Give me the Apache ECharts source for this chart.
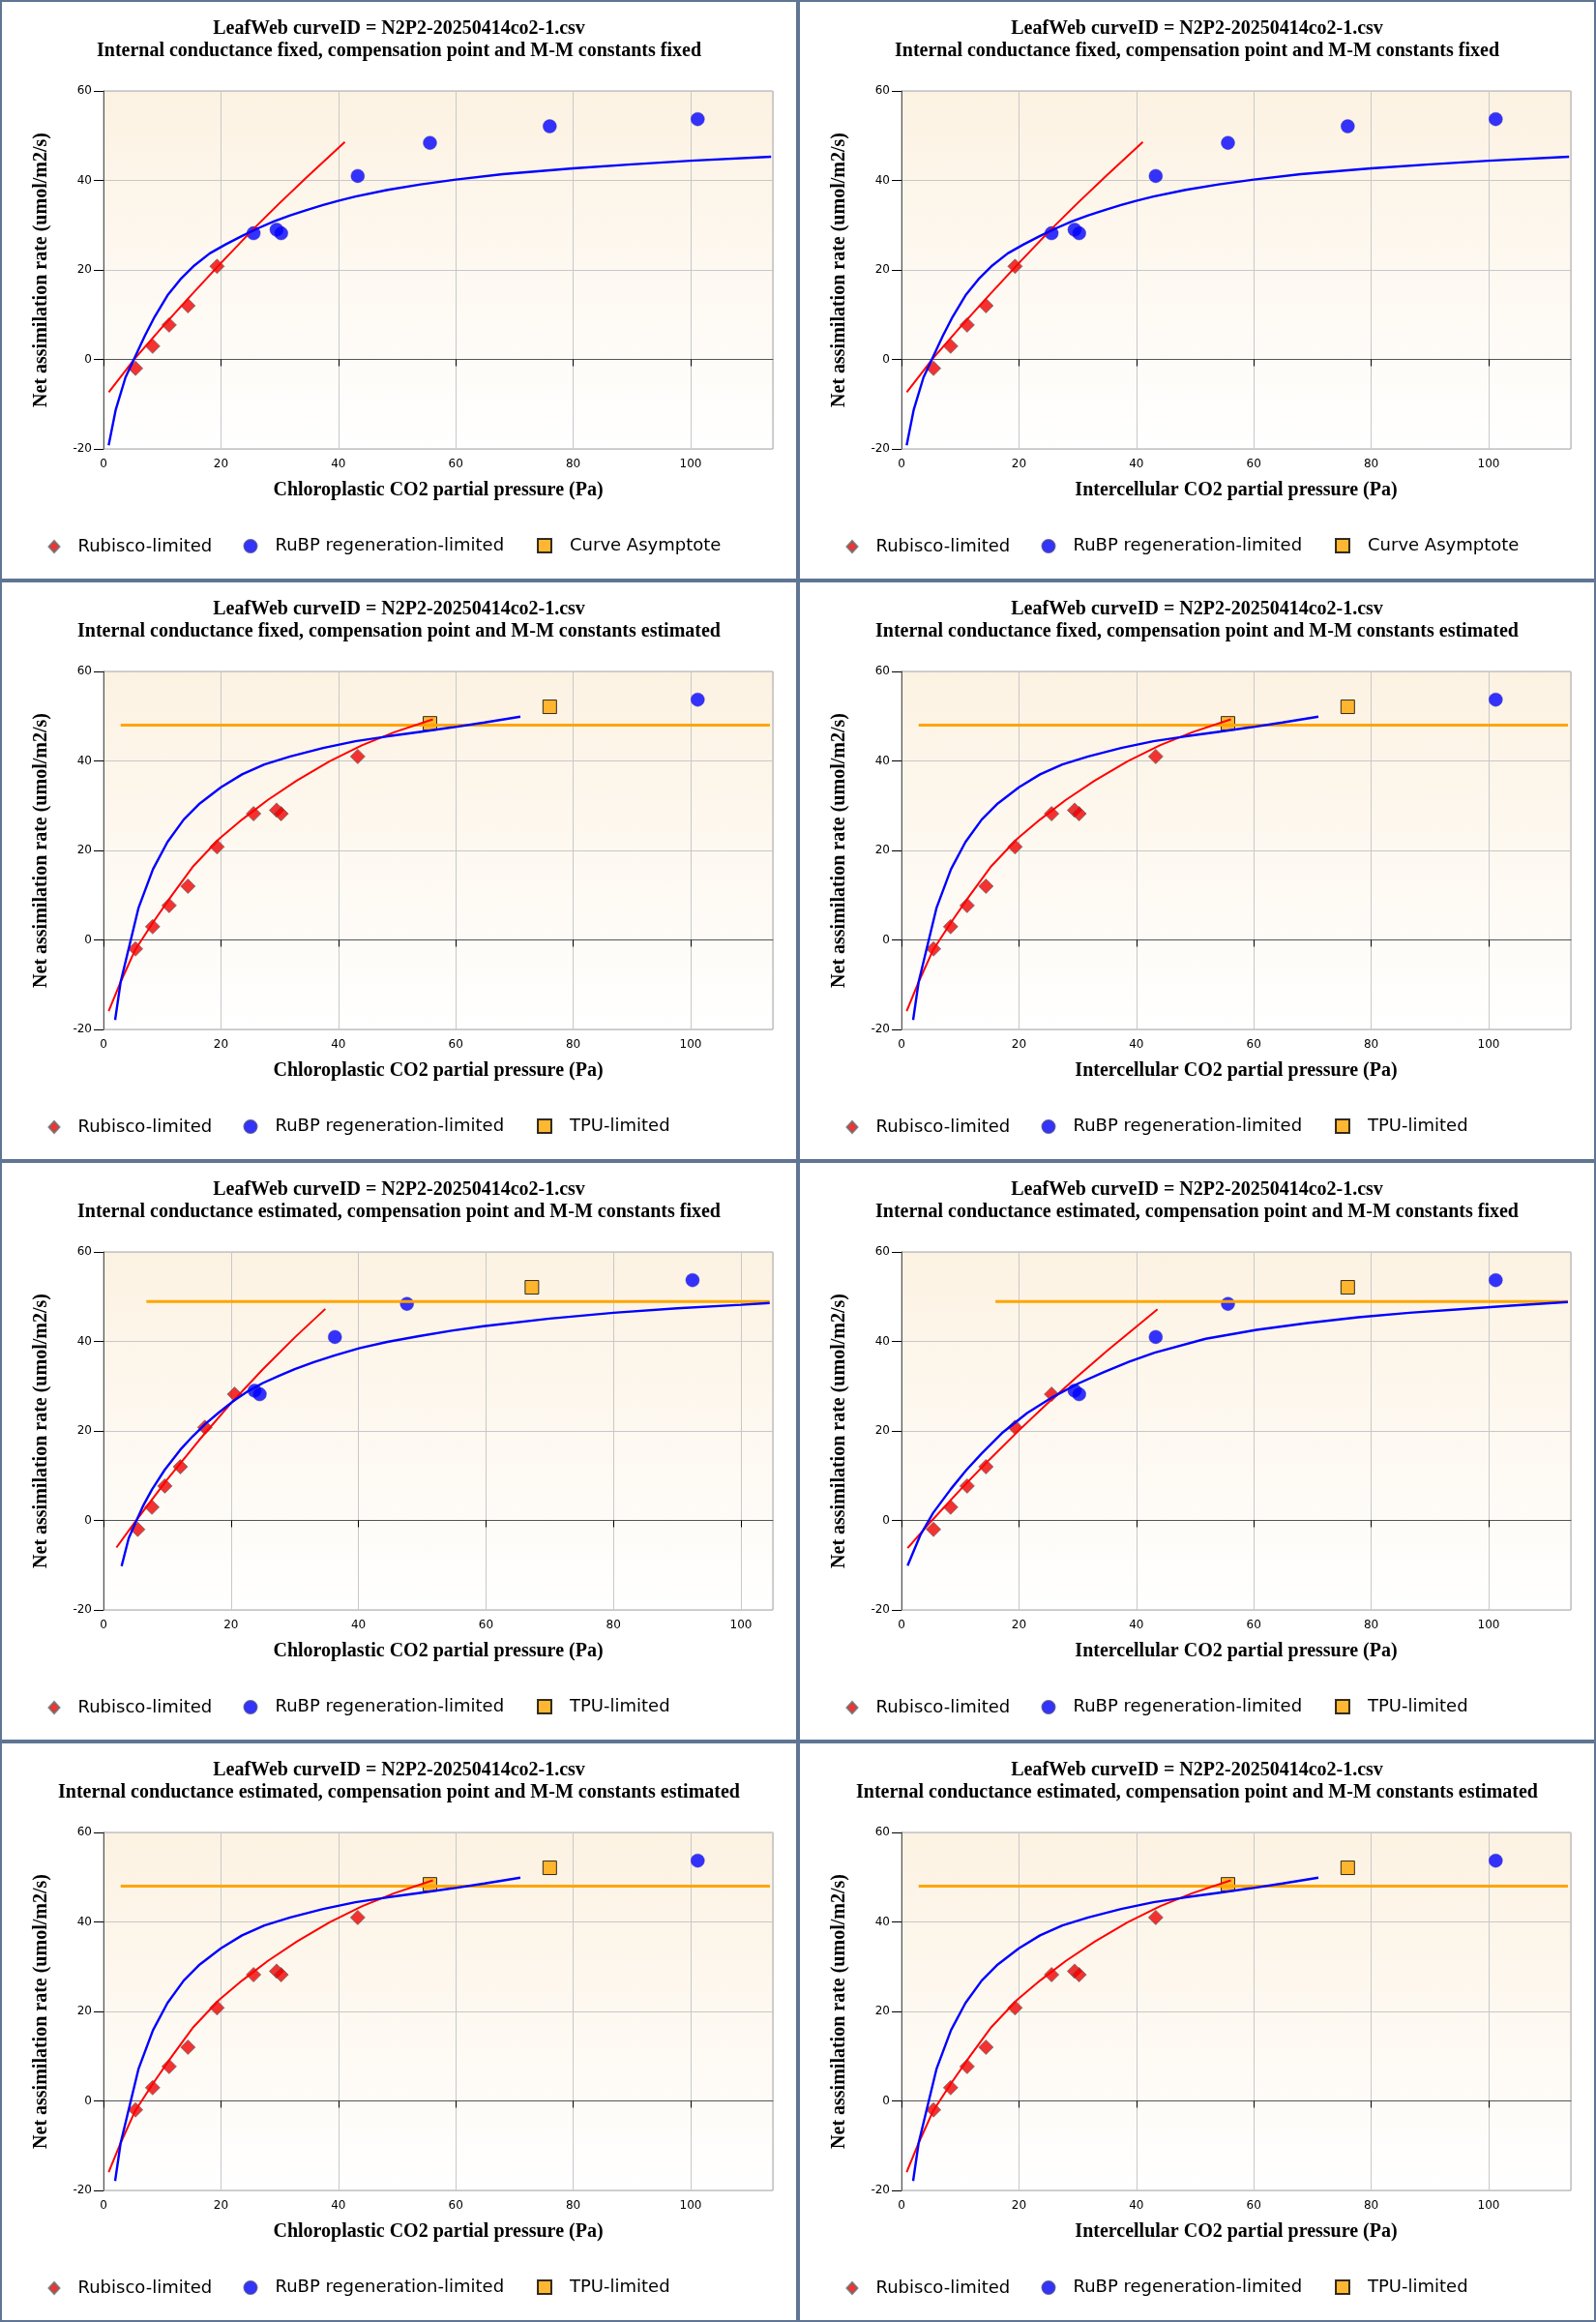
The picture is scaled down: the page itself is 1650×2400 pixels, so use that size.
<!DOCTYPE html>
<html>
<head>
<meta charset="utf-8">
<title>LeafWeb curve fits</title>
<script src="https://cdn.jsdelivr.net/npm/echarts@6.0.0/dist/echarts.min.js"></script>
<style>
body { margin: 0; background: #fff; }
#wrap { width: 1650px; display: flex; flex-wrap: wrap; }
.panel { width: 825px; height: 600px; box-sizing: border-box; border: 2px solid #5f7593; }
.panel div { width: 821px; height: 596px; }
</style>
</head>
<body>
<div id="wrap">
	<div class="panel"><div id="c0"></div></div>
	<div class="panel"><div id="c1"></div></div>
	<div class="panel"><div id="c2"></div></div>
	<div class="panel"><div id="c3"></div></div>
	<div class="panel"><div id="c4"></div></div>
	<div class="panel"><div id="c5"></div></div>
	<div class="panel"><div id="c6"></div></div>
	<div class="panel"><div id="c7"></div></div>
</div>
<script>
// measured points: intercellular CO2 (Pa) and net assimilation
var ciObs = [5.45, 8.37, 11.18, 14.38, 19.34, 25.56, 29.48, 30.25, 43.3, 55.6, 76.0, 101.2];
var aObs = [-2.0, 2.95, 7.7, 12.0, 20.8, 28.2, 29.0, 28.2, 41.0, 48.4, 52.1, 53.7];
// chloroplastic CO2 when internal conductance is estimated
var ccEstObs = [5.37, 7.6, 9.62, 12.05, 15.9, 20.56, 23.7, 24.5, 36.3, 47.6, 67.2, 92.4];

// which point is limited by what (index into the arrays above)
var rubiscoIdx1 = [0, 1, 2, 3, 4];
var rubpIdx1 = [5, 6, 7, 8, 9, 10, 11];
var tpuIdx1 = [];
var rubiscoIdx2 = [0, 1, 2, 3, 4, 5, 6, 7, 8];
var rubpIdx2 = [11];
var tpuIdx2 = [9, 10];
var rubiscoIdx3 = [0, 1, 2, 3, 4, 5];
var rubpIdx3 = [6, 7, 8, 9, 11];
var tpuIdx3 = [10];

// fitted curves
var rubiscoCurve1 = [[0.9, -7.3], [5.4, 0.3], [10, 7.2], [15, 14.45], [20, 21.55], [25.5, 29.1], [30, 34.95], [35, 41.2], [41.1, 48.6]];
var rubpCurve1 = [[0.88, -19.2], [2.09, -11.2], [3.75, -4.0], [5.4, 0.65], [7.05, 5.3], [8.7, 9.5], [10.9, 14.3], [13.1, 17.9],
	[15.3, 20.8], [18.1, 23.7], [20.8, 25.7], [23.6, 27.6], [26.3, 29.3], [29.1, 30.9], [31.8, 32.2], [34.6, 33.4],
	[37.4, 34.5], [40.1, 35.5], [42.9, 36.4], [48.4, 37.9], [54, 39.1], [60, 40.2], [68, 41.4], [80, 42.7],
	[90, 43.6], [100, 44.4], [113.7, 45.3]];

var rubiscoCurve2 = [[0.88, -15.9], [2.92, -9.4], [5.4, -2.2], [8.43, 3.9], [11.5, 9.7], [15.3, 16.5], [19.7, 22.6],
	[23.6, 26.9], [28.0, 31.3], [32.9, 35.6], [38.5, 39.9], [44.0, 43.5], [49.5, 46.4], [56.1, 49.3]];
var rubpCurve2 = [[1.98, -17.9], [2.92, -9.4], [4.3, -1.9], [5.95, 7.1], [8.43, 15.8], [10.9, 21.9], [13.66, 26.9],
	[16.4, 30.5], [20.0, 34.1], [23.6, 37.0], [27.4, 39.2], [31.8, 41.0], [37.4, 42.9], [42.9, 44.4], [48.4, 45.5],
	[53.9, 46.5], [59.4, 47.5], [64.9, 48.6], [71.0, 49.9]];
var tpuLine2 = [[2.92, 48.0], [113.5, 48.0]];

var rubiscoCurve3c = [[2.03, -6.05], [5, -0.26], [10, 9.14], [15, 17.94], [20, 26.19], [25, 33.79], [30, 40.89], [34.8, 47.27]];
var rubpCurve3c = [[2.84, -10.2], [3.95, -4.0], [5.06, -0.4], [6.3, 3.5], [7.6, 6.9], [9.6, 11.3], [12.05, 15.8],
	[14.0, 18.8], [16.0, 21.6], [18.0, 24.0], [20.5, 26.8], [22.7, 28.9], [25.0, 30.7], [27.5, 32.3], [30.0, 33.8],
	[33.0, 35.4], [36.3, 36.9], [40.2, 38.5], [44.5, 39.9], [49.5, 41.2], [54.6, 42.4], [59.6, 43.4], [70, 45.1],
	[80, 46.4], [90, 47.4], [100, 48.2], [104.5, 48.6]];
var tpuLine3c = [[6.73, 48.9], [104.5, 48.9]];

var rubiscoCurve3i = [[1.04, -6.2], [5, -0.26], [10, 6.84], [15, 13.64], [20, 20.14], [25, 26.34], [30, 32.24], [35, 37.89], [43.6, 47.2]];
var rubpCurve3i = [[1.04, -10.1], [3.2, -3.3], [5.4, 1.7], [8.4, 7.0], [11.0, 11.2], [13.6, 14.9], [17.1, 19.5],
	[21.4, 24.0], [25.8, 27.6], [30.1, 30.6], [34.4, 33.1], [38.8, 35.5], [43.1, 37.5], [51.8, 40.6], [60.5, 42.6],
	[69.1, 44.1], [77.8, 45.4], [86.5, 46.4], [95.1, 47.2], [103.8, 48.0], [113.5, 48.8]];
var tpuLine3i = [[16.0, 48.9], [113.5, 48.9]];

var curveTitle = 'LeafWeb curveID = N2P2-20250414co2-1.csv';
var fitTitles = [
	'Internal conductance fixed, compensation point and M-M constants fixed',
	'Internal conductance fixed, compensation point and M-M constants estimated',
	'Internal conductance estimated, compensation point and M-M constants fixed',
	'Internal conductance estimated, compensation point and M-M constants estimated'
];
var xNames = ['Chloroplastic CO2 partial pressure (Pa)', 'Intercellular CO2 partial pressure (Pa)'];
var yName = 'Net assimilation rate (umol/m2/s)';
var yTicks = [-20, 60, 20];

var serif = 'Liberation Serif, Times New Roman, serif';
var sans = 'DejaVu Sans, Verdana, sans-serif';

function pick(idx, xs) {
	return idx.map(function(i) {
		return [xs[i], aObs[i]];
	});
}

function legendBox(name, left, w, h) {
	return {
		data: [name],
		left: left,
		top: 560 - h / 2,
		padding: 0,
		itemWidth: w,
		itemHeight: h,
		selectedMode: false,
		textStyle: {
			fontFamily: sans,
			fontSize: 18,
			color: '#000',
			padding: [0, 0, 0, 14]
		}
	};
}

function drawPanel(dom, p) {
	var myChart = echarts.init(document.getElementById(dom));
	var lineOpts = function(name, data, color, width) {
		return {
			name: name,
			type: 'line',
			data: data,
			showSymbol: false,
			silent: true,
			animation: false,
			lineStyle: { color: color, width: width }
		};
	};
	var series = [{
			name: 'Rubisco-limited',
			type: 'scatter',
			symbol: 'diamond',
			symbolSize: 15,
			data: pick(p.rubisco, p.xs),
			itemStyle: { color: '#f00000', borderColor: '#6a6a6a', borderWidth: 1 }
		},
		{
			name: 'RuBP regeneration-limited',
			type: 'scatter',
			symbol: 'circle',
			symbolSize: 14,
			data: pick(p.rubp, p.xs),
			itemStyle: { color: '#0000ff', borderColor: '#3a3aa8', borderWidth: 0.5 }
		},
		{
			name: p.third,
			type: 'scatter',
			symbol: 'rect',
			symbolSize: 14,
			data: pick(p.tpu, p.xs),
			itemStyle: { color: '#ffa500', borderColor: '#000', borderWidth: 1 }
		}
	];
	if (p.tpuLine) series.push(lineOpts('tpu fit', p.tpuLine, '#ffa500', 3));
	series.push(lineOpts('rubisco fit', p.rubiscoCurve, '#ff0000', 2));
	series.push(lineOpts('rubp fit', p.rubpCurve, '#0000ff', 2.4));

	var option = {
		animation: false,
		title: {
			text: curveTitle + '\n' + p.title,
			left: 'center',
			top: 16,
			padding: 0,
			textStyle: {
				fontFamily: serif,
				fontWeight: 'bold',
				fontSize: 20,
				lineHeight: 23,
				color: '#000'
			}
		},
		legend: [
			legendBox('Rubisco-limited', 47.5, 11, 12),
			legendBox('RuBP regeneration-limited', 249.5, 13, 13),
			legendBox(p.third, 553, 14, 14)
		],
		grid: {
			left: 105,
			right: 24,
			top: 92,
			bottom: 134,
			show: true,
			borderColor: '#a8a8a8',
			borderWidth: 1,
			backgroundColor: new echarts.graphic.LinearGradient(0, 0, 0, 1, [
				{ offset: 0, color: '#fcf2e2' },
				{ offset: 1, color: '#ffffff' }
			])
		},
		xAxis: {
			type: 'value',
			min: 0,
			max: p.xmax,
			interval: 20,
			name: p.xName,
			nameLocation: 'middle',
			nameGap: 33,
			nameTextStyle: { fontFamily: serif, fontWeight: 'bold', fontSize: 20, color: '#000' },
			axisLine: { lineStyle: { color: '#555' } },
			axisTick: { length: 7, lineStyle: { color: '#000' } },
			axisLabel: { fontFamily: sans, fontSize: 12, color: '#000', margin: 10, showMaxLabel: false },
			splitLine: { lineStyle: { color: '#c8c8c8' } }
		},
		yAxis: {
			type: 'value',
			min: yTicks[0],
			max: yTicks[1],
			interval: yTicks[2],
			name: yName,
			nameLocation: 'middle',
			nameGap: 54,
			nameTextStyle: { fontFamily: serif, fontWeight: 'bold', fontSize: 20, color: '#000' },
			axisLine: { show: true, lineStyle: { color: '#555' } },
			axisTick: { show: true, length: 10, lineStyle: { color: '#000' } },
			axisLabel: { fontFamily: sans, fontSize: 12, color: '#000', margin: 12 },
			splitLine: { lineStyle: { color: '#c8c8c8' } }
		},
		series: series
	};
	myChart.setOption(option);
}

var panels = [];
for (var col = 0; col < 2; col++) {
	panels[col] = {
		title: fitTitles[0], xName: xNames[col], xmax: 114, xs: ciObs, third: 'Curve Asymptote',
		rubisco: rubiscoIdx1, rubp: rubpIdx1, tpu: tpuIdx1,
		rubiscoCurve: rubiscoCurve1, rubpCurve: rubpCurve1, tpuLine: null
	};
	panels[2 + col] = {
		title: fitTitles[1], xName: xNames[col], xmax: 114, xs: ciObs, third: 'TPU-limited',
		rubisco: rubiscoIdx2, rubp: rubpIdx2, tpu: tpuIdx2,
		rubiscoCurve: rubiscoCurve2, rubpCurve: rubpCurve2, tpuLine: tpuLine2
	};
	panels[6 + col] = {
		title: fitTitles[3], xName: xNames[col], xmax: 114, xs: ciObs, third: 'TPU-limited',
		rubisco: rubiscoIdx2, rubp: rubpIdx2, tpu: tpuIdx2,
		rubiscoCurve: rubiscoCurve2, rubpCurve: rubpCurve2, tpuLine: tpuLine2
	};
}
panels[4] = {
	title: fitTitles[2], xName: xNames[0], xmax: 105, xs: ccEstObs, third: 'TPU-limited',
	rubisco: rubiscoIdx3, rubp: rubpIdx3, tpu: tpuIdx3,
	rubiscoCurve: rubiscoCurve3c, rubpCurve: rubpCurve3c, tpuLine: tpuLine3c
};
panels[5] = {
	title: fitTitles[2], xName: xNames[1], xmax: 114, xs: ciObs, third: 'TPU-limited',
	rubisco: rubiscoIdx3, rubp: rubpIdx3, tpu: tpuIdx3,
	rubiscoCurve: rubiscoCurve3i, rubpCurve: rubpCurve3i, tpuLine: tpuLine3i
};

for (var k = 0; k < panels.length; k++) {
	drawPanel('c' + k, panels[k]);
}
</script>
</body>
</html>
